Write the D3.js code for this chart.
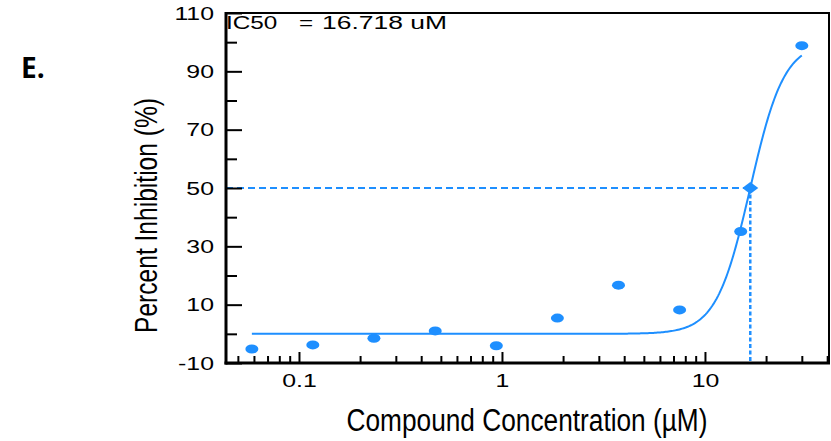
<!DOCTYPE html>
<html>
<head>
<meta charset="utf-8">
<script src="https://cdn.jsdelivr.net/npm/d3@7"></script>
<style>
  html, body { margin: 0; padding: 0; background: #fff; }
  svg { display: block; }
</style>
</head>
<body>
<svg id="chart" width="831" height="441"></svg>
<script>
// ---- data ----
const concentrations = [0.0586, 0.117, 0.234, 0.469, 0.938, 1.875, 3.75, 7.5, 15, 30];
const inhibition = [-5.2, -3.8, -1.5, 1.0, -4.1, 5.4, 16.7, 8.2, 35.1, 98.8];
const ic50 = 16.718;
const fitBottom = 0;
const fitTop = 100;
const fitHill = 5.2;
const yMajorTicks = [-10, 10, 30, 50, 70, 90, 110];
const yMinorTicks = [0, 20, 40, 60, 80, 100];
const xMajorTicks = [0.1, 1, 10];
const xMinorTicks = [0.05, 0.06, 0.07, 0.08, 0.09, 0.2, 0.3, 0.4, 0.5, 0.6, 0.7, 0.8, 0.9,
                     2, 3, 4, 5, 6, 7, 8, 9, 20, 30, 40];
const xTickLabels = ["0.1", "1", "10"];
const ic50Label = ["IC50", "=", "16.718 uM"];

(function () {
// ---- layout ----
const mLeft = 226, mRight = 830, mTop = 13, mBottom = 363;
const blue = "#1e8fff";
const svg = d3.select("#chart");

const x = d3.scaleLog().domain([0.0437, 41.3]).range([mLeft, mRight]);
const y = d3.scaleLinear().domain([-10, 110]).range([mBottom, mTop]);

function logistic(c) {
  return fitBottom + (fitTop - fitBottom) / (1 + Math.pow(ic50 / c, fitHill));
}

// dashed IC50 guides
svg.append("line")
  .attr("x1", mLeft).attr("x2", x(ic50))
  .attr("y1", y(50)).attr("y2", y(50))
  .attr("stroke", blue).attr("stroke-width", 2).attr("stroke-dasharray", "7,4");
svg.append("line")
  .attr("x1", x(ic50)).attr("x2", x(ic50))
  .attr("y1", y(50)).attr("y2", y(-10))
  .attr("stroke", blue).attr("stroke-width", 2.5).attr("stroke-dasharray", "4,2.5");

// fitted curve
const cMin = d3.min(concentrations), cMax = d3.max(concentrations);
const curvePts = d3.range(0, 401).map(i => {
  const c = Math.exp(Math.log(cMin) + (Math.log(cMax) - Math.log(cMin)) * i / 400);
  return [c, logistic(c)];
});
svg.append("path")
  .datum(curvePts)
  .attr("fill", "none")
  .attr("stroke", blue)
  .attr("stroke-width", 2)
  .attr("d", d3.line().x(d => x(d[0])).y(d => y(d[1])));

// data points (ellipses)
svg.append("g").selectAll("ellipse")
  .data(concentrations.map((c, i) => [c, inhibition[i]]))
  .join("ellipse")
  .attr("cx", d => x(d[0])).attr("cy", d => y(d[1]))
  .attr("rx", 6.5).attr("ry", 4.5)
  .attr("fill", blue);

// IC50 diamond
svg.append("path")
  .attr("transform", `translate(${x(ic50)},${y(50)})`)
  .attr("d", "M-8,0L0,-6L8,0L0,6Z")
  .attr("fill", blue);

// ---- axes ----
const textScale = 1.38;
const labelFont = "'Liberation Sans', Arial, Helvetica, sans-serif";

// y minor
svg.append("g").attr("transform", `translate(${mLeft},0)`)
  .call(d3.axisLeft(y).tickValues(yMinorTicks).tickSize(-11).tickSizeOuter(0).tickFormat(""))
  .call(g => g.select(".domain").remove())
  .call(g => g.selectAll("line").attr("stroke", "#000").attr("stroke-width", 2));
// y major
svg.append("g").attr("transform", `translate(${mLeft},0)`)
  .call(d3.axisLeft(y).tickValues(yMajorTicks).tickSize(-16).tickSizeOuter(0).tickFormat(d3.format("d")))
  .call(g => g.select(".domain").remove())
  .call(g => g.selectAll("line").attr("stroke", "#000").attr("stroke-width", 2))
  .call(g => g.selectAll("text")
    .attr("x", null).attr("dy", null)
    .attr("transform", `translate(-12,6) scale(${textScale},1)`)
    .attr("text-anchor", "end")
    .attr("fill", "#000")
    .style("font-family", labelFont)
    .style("font-size", "18px")
    .text(d => d < 0 ? "-" + Math.abs(d) : d));

// x minor
svg.append("g").attr("transform", `translate(0,${mBottom})`)
  .call(d3.axisBottom(x).tickValues(xMinorTicks).tickSize(-7).tickSizeOuter(0).tickFormat(""))
  .call(g => g.select(".domain").remove())
  .call(g => g.selectAll("line").attr("stroke", "#000").attr("stroke-width", 2));
// x major
svg.append("g").attr("transform", `translate(0,${mBottom})`)
  .call(d3.axisBottom(x).tickValues(xMajorTicks).tickSize(-11).tickSizeOuter(0)
    .tickFormat((d, i) => xTickLabels[i]))
  .call(g => g.select(".domain").remove())
  .call(g => g.selectAll("line").attr("stroke", "#000").attr("stroke-width", 2))
  .call(g => g.selectAll("text")
    .attr("y", null).attr("dy", null)
    .attr("transform", `translate(0,24) scale(${textScale},1)`)
    .attr("text-anchor", "middle")
    .attr("fill", "#000")
    .style("font-family", labelFont)
    .style("font-size", "18px"));

// frame
svg.append("line").attr("x1", mLeft).attr("x2", mRight).attr("y1", mTop).attr("y2", mTop)
  .attr("stroke", "#000").attr("stroke-width", 2);
svg.append("line").attr("x1", mRight - 1).attr("x2", mRight - 1).attr("y1", mTop).attr("y2", mBottom)
  .attr("stroke", "#000").attr("stroke-width", 2);
svg.append("line").attr("x1", mLeft).attr("x2", mLeft).attr("y1", mTop - 1).attr("y2", mBottom + 1.5)
  .attr("stroke", "#000").attr("stroke-width", 3);
svg.append("line").attr("x1", mLeft - 1.5).attr("x2", mRight).attr("y1", mBottom).attr("y2", mBottom)
  .attr("stroke", "#000").attr("stroke-width", 3);

// IC50 annotation
const ann = svg.append("g").style("font-family", labelFont).style("font-size", "18px").attr("fill", "#000");
const annX = [mLeft, 299, 322];
const annScale = [1.35, 1.35, 1.47];
ic50Label.forEach((t, i) => {
  ann.append("text")
    .attr("transform", `translate(${annX[i]},29) scale(${annScale[i]},1)`)
    .text(t);
});

// axis titles
svg.append("text")
  .attr("x", 527).attr("y", 431)
  .attr("text-anchor", "middle")
  .attr("textLength", 361).attr("lengthAdjust", "spacingAndGlyphs")
  .style("font-family", labelFont).style("font-size", "31px")
  .attr("fill", "#000")
  .text("Compound Concentration (\u00b5M)");

svg.append("text")
  .attr("transform", "translate(157,215.5) rotate(-90)")
  .attr("text-anchor", "middle")
  .attr("textLength", 235).attr("lengthAdjust", "spacingAndGlyphs")
  .style("font-family", labelFont).style("font-size", "31px")
  .attr("fill", "#000")
  .text("Percent Inhibition (%)");

// panel letter
svg.append("text")
  .attr("x", 21).attr("y", 78)
  .style("font-family", "'Open Sans', 'Noto Sans', sans-serif")
  .style("font-weight", "bold").style("font-size", "28px")
  .attr("fill", "#000")
  .text("E.");
})();
</script>
</body>
</html>
